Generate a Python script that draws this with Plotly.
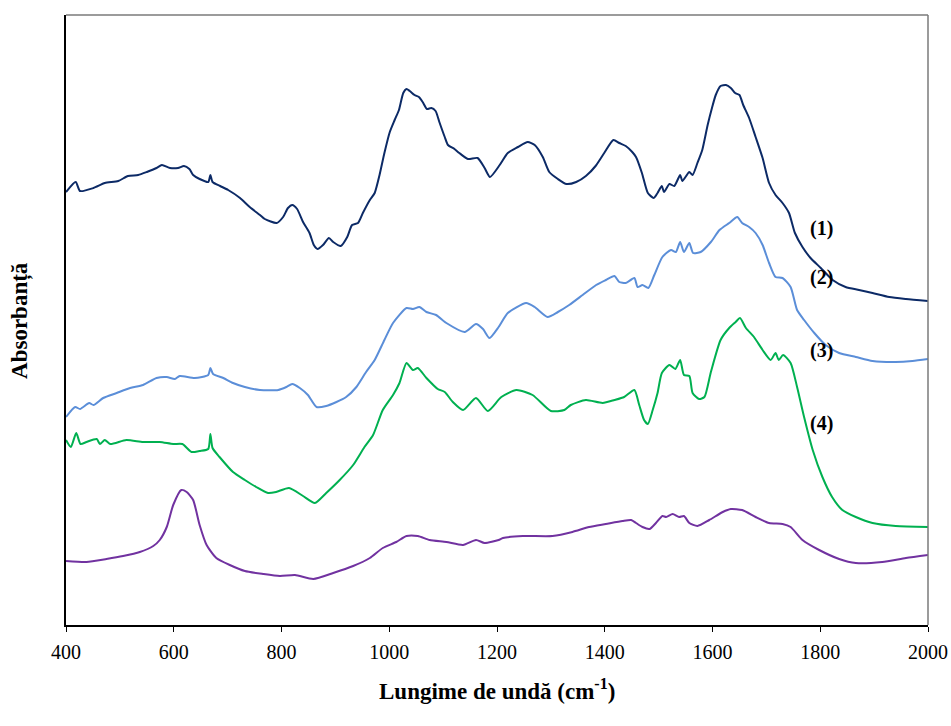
import plotly.graph_objects as go

# FTIR absorbance spectra (arbitrary units, vertically offset), wavenumber in cm-1
wn_1 = [400, 418, 426, 451, 472, 497, 515, 534, 550, 568, 578, 593, 608, 619, 629, 636, 648, 664, 668, 672,
        686, 701, 723, 741, 760, 769, 791, 803, 812, 820, 829, 840, 852, 860, 867, 877, 888, 896, 910, 922,
        931, 942, 951, 964, 973, 982, 991, 1001, 1010, 1018, 1026, 1032, 1038, 1047, 1055, 1062, 1070, 1078,
        1086, 1093, 1103, 1109, 1121, 1130, 1146, 1164, 1177, 1187, 1205, 1220, 1239, 1257, 1270, 1285, 1297,
        1313, 1329, 1347, 1365, 1383, 1399, 1416, 1427, 1439, 1451, 1458, 1469, 1480, 1491, 1498, 1506, 1510,
        1520, 1529, 1540, 1544, 1557, 1563, 1572, 1581, 1591, 1599, 1606, 1615, 1625, 1634, 1642, 1650, 1657,
        1668, 1680, 1693, 1705, 1717, 1730, 1742, 1753, 1767, 1782, 1801, 1823, 1847, 1872, 1897, 1928, 1959, 2000]
abs_1 = [0.868, 0.888, 0.870, 0.876, 0.886, 0.890, 0.900, 0.902, 0.908, 0.916, 0.922, 0.916, 0.916, 0.920, 0.914,
         0.902, 0.894, 0.888, 0.902, 0.888, 0.880, 0.872, 0.856, 0.838, 0.822, 0.814, 0.806, 0.818, 0.836, 0.842,
         0.834, 0.808, 0.786, 0.762, 0.754, 0.762, 0.776, 0.768, 0.760, 0.778, 0.802, 0.806, 0.826, 0.852, 0.866,
         0.902, 0.946, 0.988, 1.012, 1.032, 1.066, 1.074, 1.070, 1.062, 1.058, 1.048, 1.034, 1.036, 1.030, 1.008,
         0.978, 0.962, 0.954, 0.946, 0.934, 0.936, 0.916, 0.898, 0.922, 0.946, 0.958, 0.968, 0.962, 0.938, 0.908,
         0.894, 0.884, 0.888, 0.900, 0.920, 0.946, 0.972, 0.966, 0.960, 0.948, 0.938, 0.906, 0.866, 0.856, 0.866,
         0.880, 0.868, 0.884, 0.880, 0.902, 0.890, 0.908, 0.902, 0.926, 0.952, 1.002, 1.036, 1.062, 1.080, 1.082,
         1.076, 1.066, 1.062, 1.042, 1.016, 0.978, 0.936, 0.886, 0.862, 0.846, 0.826, 0.786, 0.758, 0.736, 0.716,
         0.692, 0.678, 0.672, 0.666, 0.658, 0.654, 0.650]

wn_2 = [400, 417, 426, 443, 451, 469, 494, 519, 543, 568, 587, 602, 611, 639, 664, 668, 673, 692, 710, 732,
        760, 794, 809, 820, 834, 849, 865, 883, 902, 920, 939, 957, 973, 991, 1007, 1032, 1044, 1056, 1069,
        1087, 1106, 1140, 1161, 1174, 1186, 1203, 1220, 1254, 1270, 1294, 1313, 1334, 1359, 1384, 1402, 1418,
        1427, 1439, 1455, 1461, 1470, 1481, 1492, 1507, 1523, 1532, 1540, 1547, 1557, 1564, 1578, 1597, 1613,
        1631, 1646, 1655, 1668, 1680, 1693, 1705, 1717, 1730, 1745, 1757, 1770, 1789, 1810, 1835, 1866, 1897,
        1940, 1971, 2000]
abs_2 = [0.418, 0.438, 0.434, 0.446, 0.442, 0.456, 0.466, 0.476, 0.482, 0.496, 0.498, 0.494, 0.500, 0.496, 0.502,
         0.516, 0.504, 0.496, 0.486, 0.478, 0.472, 0.472, 0.478, 0.484, 0.476, 0.462, 0.438, 0.440, 0.448, 0.458,
         0.478, 0.508, 0.532, 0.572, 0.606, 0.636, 0.634, 0.638, 0.628, 0.622, 0.606, 0.588, 0.604, 0.594, 0.576,
         0.598, 0.626, 0.646, 0.638, 0.618, 0.628, 0.642, 0.662, 0.682, 0.692, 0.700, 0.688, 0.686, 0.696, 0.678,
         0.682, 0.676, 0.702, 0.738, 0.752, 0.748, 0.768, 0.748, 0.766, 0.746, 0.748, 0.768, 0.792, 0.806, 0.818,
         0.806, 0.798, 0.786, 0.762, 0.726, 0.698, 0.696, 0.678, 0.632, 0.612, 0.586, 0.562, 0.546, 0.538, 0.530,
         0.528, 0.530, 0.534]

wn_3 = [400, 409, 419, 427, 438, 457, 463, 472, 482, 512, 543, 574, 599, 616, 633, 648, 664, 668, 672, 685,
        710, 732, 753, 775, 790, 814, 840, 862, 883, 908, 933, 954, 970, 988, 1007, 1019, 1032, 1044, 1053,
        1069, 1090, 1103, 1118, 1137, 1161, 1183, 1208, 1236, 1266, 1300, 1325, 1337, 1365, 1396, 1418, 1436,
        1455, 1464, 1473, 1480, 1489, 1498, 1506, 1520, 1531, 1540, 1547, 1557, 1563, 1575, 1585, 1597, 1615,
        1631, 1643, 1651, 1662, 1677, 1693, 1708, 1717, 1723, 1731, 1745, 1757, 1770, 1786, 1804, 1822, 1841,
        1866, 1897, 1940, 2000]
abs_3 = [0.372, 0.358, 0.386, 0.364, 0.368, 0.374, 0.364, 0.372, 0.364, 0.372, 0.368, 0.368, 0.364, 0.364, 0.348,
         0.350, 0.354, 0.384, 0.356, 0.338, 0.308, 0.292, 0.278, 0.266, 0.268, 0.276, 0.260, 0.246, 0.266, 0.292,
         0.322, 0.358, 0.382, 0.432, 0.462, 0.486, 0.526, 0.512, 0.516, 0.496, 0.474, 0.468, 0.448, 0.432, 0.456,
         0.430, 0.458, 0.472, 0.462, 0.430, 0.432, 0.442, 0.452, 0.446, 0.452, 0.458, 0.472, 0.442, 0.412, 0.404,
         0.432, 0.466, 0.506, 0.522, 0.514, 0.532, 0.502, 0.500, 0.466, 0.454, 0.458, 0.508, 0.572, 0.596, 0.608,
         0.616, 0.596, 0.578, 0.552, 0.532, 0.546, 0.532, 0.542, 0.526, 0.478, 0.418, 0.352, 0.298, 0.258, 0.232,
         0.218, 0.206, 0.200, 0.198]

wn_4 = [400, 438, 475, 506, 537, 562, 574, 587, 599, 614, 624, 636, 648, 661, 679, 704, 732, 766, 797, 825,
        859, 896, 933, 964, 988, 1013, 1032, 1053, 1075, 1106, 1137, 1161, 1177, 1203, 1211, 1248, 1303, 1340,
        1371, 1402, 1433, 1449, 1458, 1470, 1483, 1495, 1507, 1514, 1526, 1538, 1547, 1557, 1572, 1594, 1619,
        1634, 1655, 1680, 1705, 1730, 1745, 1767, 1798, 1835, 1866, 1915, 1959, 2000]
abs_4 = [0.130, 0.128, 0.134, 0.140, 0.148, 0.160, 0.172, 0.198, 0.242, 0.272, 0.268, 0.252, 0.202, 0.162, 0.136,
         0.122, 0.110, 0.104, 0.100, 0.102, 0.094, 0.106, 0.120, 0.136, 0.156, 0.168, 0.180, 0.180, 0.172, 0.168,
         0.162, 0.172, 0.166, 0.172, 0.176, 0.180, 0.180, 0.188, 0.198, 0.204, 0.210, 0.212, 0.206, 0.198, 0.194,
         0.206, 0.220, 0.218, 0.224, 0.218, 0.220, 0.206, 0.200, 0.212, 0.228, 0.234, 0.232, 0.218, 0.206, 0.204,
         0.198, 0.172, 0.152, 0.134, 0.126, 0.128, 0.136, 0.142]

series_labels = ["(1)", "(2)", "(3)", "(4)"]
label_x = 1803
label_y = [0.796, 0.698, 0.552, 0.406]
x_ticks = [400, 600, 800, 1000, 1200, 1400, 1600, 1800, 2000]
x_ticktext = ["400", "600", "800", "1000", "1200", "1400", "1600", "1800", "2000"]

colors = ["#0c2a66", "#5b8ed8", "#00b050", "#7132a0"]
serif = "Liberation Serif"

fig = go.Figure()
for wn, ab, col in zip([wn_1, wn_2, wn_3, wn_4], [abs_1, abs_2, abs_3, abs_4], colors):
    fig.add_trace(go.Scatter(x=wn, y=ab, mode="lines",
                             line=dict(color=col, width=2, shape="spline", smoothing=0.6),
                             hoverinfo="skip", showlegend=False))

for lab, ly in zip(series_labels, label_y):
    fig.add_annotation(x=label_x, y=ly, text="<b>%s</b>" % lab, showarrow=False,
                       font=dict(family=serif, size=20, color="black"), xanchor="center", yanchor="middle")

# axis titles
fig.add_annotation(x=0.5, y=-0.105, xref="paper", yref="paper", yanchor="middle",
                   text="<b>Lungime de undă (cm<sup>-1</sup>)</b>", showarrow=False,
                   font=dict(family=serif, size=23, color="black"))
fig.add_annotation(x=-0.0534, y=0.5, xref="paper", yref="paper", xanchor="center", yanchor="middle",
                   text="<b>Absorbanță</b>", showarrow=False, textangle=-90,
                   font=dict(family=serif, size=23, color="black"))

# thin grey frame on top and right
fig.add_shape(type="line", xref="paper", yref="paper", x0=0, x1=1, y0=1, y1=1,
              line=dict(color="#7a7a7a", width=1.5))
fig.add_shape(type="line", xref="paper", yref="paper", x0=1, x1=1, y0=0, y1=1,
              line=dict(color="#7a7a7a", width=1.5))

fig.update_xaxes(range=[400, 2000], tickmode="array", tickvals=x_ticks, ticktext=x_ticktext,
                 ticks="outside", ticklen=5, tickwidth=1, tickcolor="black", automargin=False,
                 ticklabelstandoff=3,
                 showline=True, linecolor="black", linewidth=2, showgrid=False, zeroline=False,
                 tickfont=dict(family=serif, size=20, color="black"))
fig.update_yaxes(range=[0.002, 1.222], showticklabels=False, ticks="", showline=True, linecolor="black",
                 linewidth=2, showgrid=False, zeroline=False, automargin=False)

fig.update_layout(width=951, height=726, margin=dict(l=66, r=23, t=15, b=101),
                  font=dict(family=serif, color="black"),
                  plot_bgcolor="white", paper_bgcolor="white")

fig.write_html("out.html")
